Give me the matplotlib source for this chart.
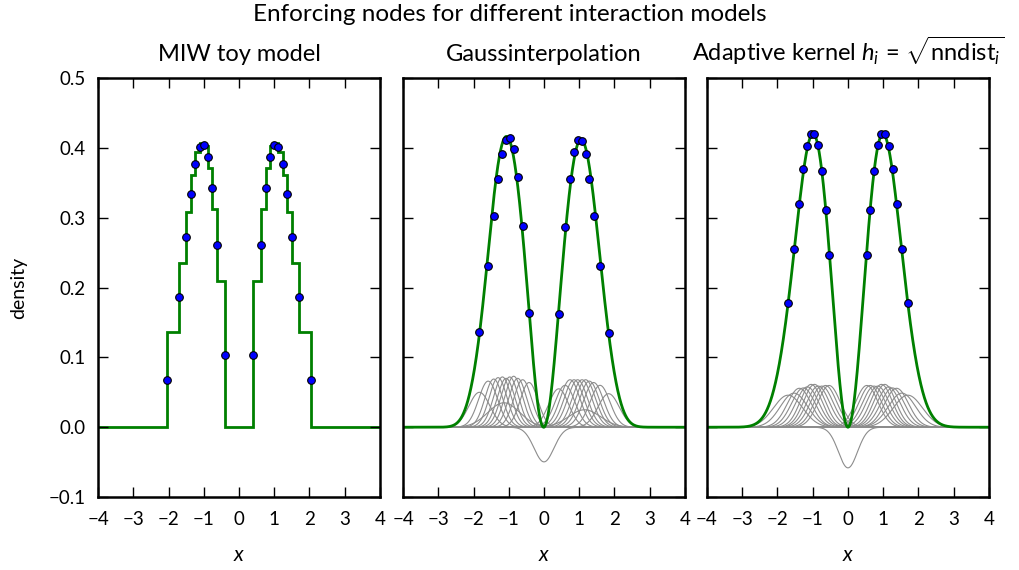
import numpy as np
import matplotlib
matplotlib.use("Agg")
import matplotlib.pyplot as plt

plt.rcParams['font.family'] = ['Lato', 'DejaVu Sans']
plt.rcParams['mathtext.fontset'] = 'custom'
plt.rcParams['mathtext.rm'] = 'Lato'
plt.rcParams['mathtext.it'] = 'Lato:italic'

# --- MIW toy model: particle positions, densities at the nodes, step levels between nodes
miw_x = [-2.03, -1.70, -1.51, -1.358, -1.24, -1.12, -1.0, -0.888, -0.77, -0.62, -0.405,
         0.405, 0.62, 0.77, 0.888, 1.0, 1.12, 1.24, 1.358, 1.51, 1.70, 2.03]
miw_y = [0.0683, 0.1866, 0.2725, 0.3345, 0.3774, 0.4009, 0.4048, 0.3865, 0.3423, 0.261, 0.1034,
         0.1034, 0.261, 0.3423, 0.3865, 0.4048, 0.4009, 0.3774, 0.3345, 0.2725, 0.1866, 0.0683]
miw_levels = [0.137, 0.2356, 0.3077, 0.3605, 0.3942, 0.4076, 0.4029, 0.3712, 0.3125, 0.2091,
              0.0,
              0.2091, 0.3125, 0.3712, 0.4029, 0.4076, 0.3942, 0.3605, 0.3077, 0.2356, 0.137]

# --- Gaussinterpolation: nodes and kernels (centre, peak height, width)
gi_x = [-1.832, -1.585, -1.426, -1.302, -1.18, -1.075, -0.973, -0.86, -0.746, -0.606, -0.424,
        0.416, 0.597, 0.739, 0.852, 0.955, 1.079, 1.182, 1.287, 1.409, 1.590, 1.834]
gi_y = [0.1361, 0.2307, 0.302, 0.3553, 0.3918, 0.412, 0.4149, 0.398, 0.3586, 0.2884, 0.1635,
        0.1625, 0.2861, 0.3553, 0.3947, 0.412, 0.4101, 0.3908, 0.3553, 0.3028, 0.2307, 0.1347]
gi_kc = gi_x + [-1.14, 1.15]
gi_kpeak = [0.050, 0.066, 0.069, 0.071, 0.072, 0.070, 0.072, 0.073, 0.070, 0.068, 0.064,
            0.055, 0.060, 0.068, 0.068, 0.068, 0.068, 0.068, 0.066, 0.064, 0.060, 0.048,
            0.035, 0.025]
gi_kwidth = [0.30, 0.27, 0.25, 0.25, 0.25, 0.25, 0.25, 0.25, 0.25, 0.25, 0.25,
             0.28, 0.28, 0.28, 0.28, 0.28, 0.28, 0.28, 0.28, 0.28, 0.28, 0.30,
             0.45, 0.45]
gi_node_width = 0.28

# --- Adaptive kernel: nodes, kernel weight, width of the node kernel at x=0
ak_x = [-1.70, -1.53, -1.38, -1.265, -1.152, -1.045, -0.95, -0.845, -0.742, -0.635, -0.535,
        0.535, 0.635, 0.742, 0.845, 0.95, 1.045, 1.152, 1.265, 1.38, 1.53, 1.70]
ak_y = [0.1774, 0.2552, 0.3201, 0.3691, 0.4029, 0.4206, 0.4206, 0.4037, 0.3673, 0.3115, 0.2466,
        0.2466, 0.3115, 0.3673, 0.4037, 0.4206, 0.4206, 0.4029, 0.3691, 0.3201, 0.2552, 0.1774]
ak_weight = 0.0474
ak_node_width = 0.27

node_pos = 0.0
xs = np.linspace(-4, 4, 1600)


def bump(x, c, peak, h):
    return peak * np.exp(-0.5 * ((x - c) / h) ** 2)


def with_node(kernels, h_node):
    # add a negative kernel so the total density vanishes at the node
    depth = sum(bump(node_pos, c, p, h) for c, p, h in kernels)
    return kernels + [(node_pos, -depth, h_node)]


gi_kernels = with_node(list(zip(gi_kc, gi_kpeak, gi_kwidth)), gi_node_width)

ak_arr = np.array(ak_x)
nn = np.array([np.min(np.abs(np.delete(ak_arr, i) - v)) for i, v in enumerate(ak_arr)])
ak_h = np.sqrt(nn)
ak_peak = ak_weight / (ak_h * np.sqrt(2 * np.pi))
ak_kernels = with_node(list(zip(ak_x, ak_peak, ak_h)), ak_node_width)

fig = plt.figure(figsize=(10.19, 5.70), dpi=100)
fig.suptitle('Enforcing nodes for different interaction models', fontsize=17.5, y=0.993)

W, H, B = 0.2767, 0.735, 0.128
lefts = [0.0962, 0.3955, 0.6938]
axes = [fig.add_axes([l, B, W, H]) for l in lefts]

green = '#008000'
grey = '#8c8c8c'

# MIW toy model
ax = axes[0]
ax.stairs([0.0] + miw_levels + [0.0], [-4.0] + miw_x + [4.0], color=green, lw=2, baseline=None)
ax.plot(miw_x, miw_y, 'o', color='blue', mec='black', mew=0.8, ms=5.5, zorder=5)
ax.set_title('MIW toy model', fontsize=17, pad=12)

for ax, kernels, nx, ny, title in [
        (axes[1], gi_kernels, gi_x, gi_y, 'Gaussinterpolation'),
        (axes[2], ak_kernels, ak_x, ak_y, r'Adaptive kernel $h_i\,=\,\sqrt{\mathrm{nndist}_i}$')]:
    total = np.zeros_like(xs)
    for c, p, h in kernels:
        k = bump(xs, c, p, h)
        total += k
        ax.plot(xs, k, color=grey, lw=0.8)
    ax.plot(xs, total, color=green, lw=2)
    ax.plot(nx, ny, 'o', color='blue', mec='black', mew=0.8, ms=5.5, zorder=5)
    ax.set_title(title, fontsize=17, pad=12)

for i, ax in enumerate(axes):
    ax.set_xlim(-4, 4)
    ax.set_ylim(-0.1, 0.5)
    ax.set_xticks(np.arange(-4, 5, 1))
    ax.set_yticks(np.arange(-0.1, 0.51, 0.1))
    ax.tick_params(direction='in', length=7, width=1, top=True, right=True, labelsize=13.5)
    ax.tick_params(axis='x', pad=10)
    ax.tick_params(axis='y', pad=9)
    for s in ax.spines.values():
        s.set_linewidth(1.8)
    ax.set_xlabel('$x$', fontsize=15, labelpad=12)
    if i == 0:
        ax.set_ylabel('density', fontsize=14, labelpad=15)
    else:
        ax.set_yticklabels([])

fig.savefig('out.png', dpi=100)
